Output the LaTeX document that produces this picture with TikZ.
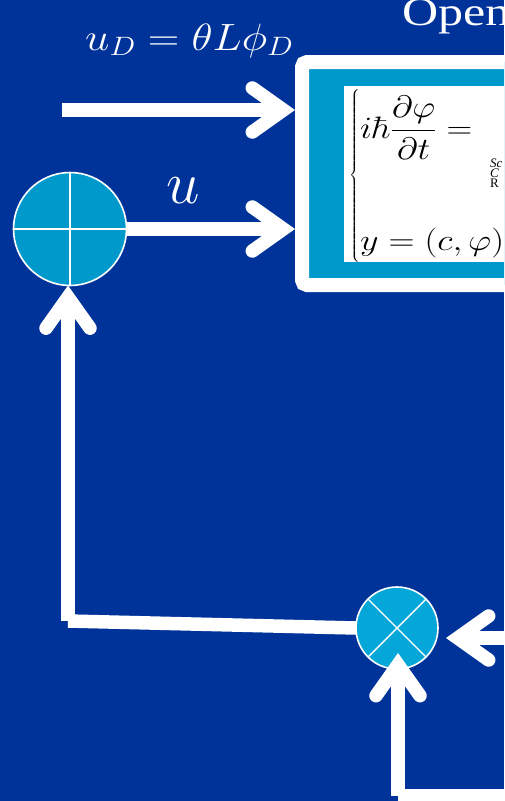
\RequirePackage{fix-cm}
\documentclass[tikz,border=0pt]{standalone}
\usepackage{amsmath}
\usepackage[no-math]{fontspec}
\setmainfont{Liberation Serif}
\usetikzlibrary{arrows.meta,positioning,calc}

\definecolor{slideBlue}{RGB}{0,51,153}
\definecolor{boxCyan}{RGB}{0,153,204}
\definecolor{multCyan}{RGB}{5,166,216}

\tikzset{
  flow/.style={draw=white, line width=13.5pt},
  barb/.style={-{Straight Barb[length=31pt,width=44pt,line cap=round,line join=miter]}},
  junction/.style={circle, draw=white, line width=1.6pt, inner sep=0pt, outer sep=0pt},
}

\begin{document}
\begin{tikzpicture}[x=1pt,y=-1pt]
  \useasboundingbox (0,0) rectangle (504,801);
  \fill[slideBlue] (0,0) rectangle (504,801);
  \clip (0,0) rectangle (504,801);

  % plant block
  \node[draw=white, line width=14pt, fill=boxCyan, rounded corners=5pt, minimum width=400pt, minimum height=223pt, anchor=west, inner sep=0pt] (plant) at (295,173.5) {};
  \node[fill=white, minimum width=300pt, minimum height=176pt, anchor=north west, inner sep=0pt] (eqbox) at (344,86) {};

  % model equations
  \node[font=\fontsize{12}{14}\selectfont, inner sep=0pt] (brace) at (355,176) {$\left\{\vrule height 84pt depth 84pt width 0pt\right.$};
  \node[font=\fontsize{31}{36}\selectfont, anchor=base west, inner sep=0pt] (schr) at (360,138) {\scalebox{1.15}[1]{$i\hbar\dfrac{\partial\varphi}{\partial t}=$}};
  \node[font=\fontsize{30}{36}\selectfont, anchor=base west, inner sep=0pt] (outeq) at (360,250) {\scalebox{1.2}[1]{$y=(c,\varphi)$}};
  \node[font=\fontsize{13}{14}\selectfont\itshape, anchor=base west, inner sep=0pt] (noteA) at (490,167) {Sc};
  \node[font=\fontsize{13}{14}\selectfont\itshape, anchor=base west, inner sep=0pt] (noteB) at (490,177) {C};
  \node[font=\fontsize{13}{14}\selectfont, anchor=base west, inner sep=0pt] (noteC) at (490,187) {R};

  % labels
  \node[white, font=\fontsize{38}{42}\selectfont, anchor=base west, inner sep=0pt] (udlab) at (85,50) {\scalebox{1.15}[1]{$u_{D}=\theta L\phi_{D}$}};
  \node[white, font=\fontsize{60}{64}\selectfont, anchor=base west, inner sep=0pt] (ulab) at (166,203) {$u$};
  \node[white, font=\fontsize{40}{44}\selectfont, anchor=base west, inner sep=0pt] (title) at (402,25) {\scalebox{1.25}[1]{Open}};

  % summing and product junctions
  \node[junction, fill=boxCyan, minimum size=113pt] (sum) at (70,229) {};
  \node[junction, fill=multCyan, minimum size=82pt] (mult) at (397,628) {};
  \draw[white, line width=1.4pt] (sum.north) -- (sum.south) (sum.west) -- (sum.east);
  \draw[white, line width=1.4pt] (mult.north west) -- (mult.south east) (mult.north east) -- (mult.south west);

  % connectors
  \coordinate (udin) at (62,110);
  \coordinate (corner) at (68,621);
  \coordinate (feedin) at (520,638);
  \coordinate (botc) at (398,796);
  \coordinate (botin) at (520,796);

  \draw[flow, barb] (udin) -- (udin -| plant.west);
  \draw[flow, barb] (sum.east) -- (sum -| plant.west);
  \draw[flow] (mult.west) -- (corner);
  \draw[flow, barb] (corner) -- (corner |- sum.south);
  \draw[flow, barb, shorten >=8pt] (feedin) -- (feedin -| mult.east);
  \draw[flow] (botin) -- (botc);
  \draw[flow, barb, shorten >=25pt] (botc) -- (botc |- mult);
\end{tikzpicture}
\end{document}
